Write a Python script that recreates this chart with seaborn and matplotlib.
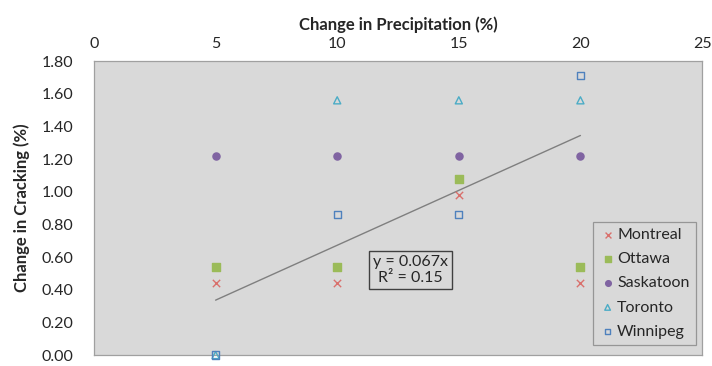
import numpy as np
import pandas as pd
import matplotlib
matplotlib.use("Agg")
import matplotlib.pyplot as plt
import seaborn as sns

precip = [5, 10, 15, 20]
montreal = [0.44, 0.44, 0.98, 0.44]
ottawa = [0.54, 0.54, 1.08, 0.54]
saskatoon = [1.22, 1.22, 1.22, 1.22]
toronto = [0.00, 1.56, 1.56, 1.56]
winnipeg = [0.00, 0.86, 0.86, 1.71]
cities = ["Montreal", "Ottawa", "Saskatoon", "Toronto", "Winnipeg"]
x_ticks = [0, 5, 10, 15, 20, 25]
y_ticks = [0.0, 0.2, 0.4, 0.6, 0.8, 1.0, 1.2, 1.4, 1.6, 1.8]

series = dict(zip(cities, [montreal, ottawa, saskatoon, toronto, winnipeg]))
df = pd.DataFrame([(c, x, y) for c, ys in series.items() for x, y in zip(precip, ys)],
                  columns=["city", "precip", "crack"])

sns.set_theme(style="white")
plt.rcParams['font.family'] = ['Lato', 'DejaVu Sans']

fig = plt.figure(figsize=(7.12, 3.66), dpi=100)
ax = fig.add_axes([0.132, 0.030, 0.854, 0.803])
ax.set_facecolor("#d9d9d9")

styles = {
    "Montreal": dict(marker="x", color="#d9706c", fc=None),
    "Ottawa": dict(marker="s", color="#9bbb59", fc="#9bbb59"),
    "Saskatoon": dict(marker="o", color="#8064a2", fc="#8064a2"),
    "Toronto": dict(marker="^", color="#4bacc6", fc="none"),
    "Winnipeg": dict(marker="s", color="#4f81bd", fc="none"),
}

for c in cities:
    st = styles[c]
    sub = df[df.city == c]
    if st["fc"] is None:
        sns.scatterplot(data=sub, x="precip", y="crack", marker="x", s=28,
                        color=st["color"], linewidth=1.0, label=c, ax=ax, clip_on=False, zorder=3)
    else:
        sns.scatterplot(data=sub, x="precip", y="crack", marker=st["marker"], s=26,
                        facecolor=st["fc"], edgecolor=st["color"], linewidth=1.0,
                        label=c, ax=ax, clip_on=False, zorder=3)

# linear trendline through origin
xa = np.array(df.precip, dtype=float)
ya = np.array(df.crack, dtype=float)
slope = (xa * ya).sum() / (xa * xa).sum()
fit = pd.DataFrame({"x": [min(precip), max(precip)]})
fit["y"] = slope * fit["x"]
sns.lineplot(data=fit, x="x", y="y", color="#7f7f7f", linewidth=1.0, ax=ax, zorder=2)

ax.set_xlim(0, 25)
ax.set_ylim(0, 1.8)
ax.set_xticks(x_ticks)
ax.set_yticks(y_ticks)
ax.set_yticklabels([f"{v:.2f}" for v in y_ticks])
ax.xaxis.tick_top()
ax.xaxis.set_label_position("top")
ax.tick_params(axis="x", length=0, labelsize=11.5, pad=7, colors="#262626")
ax.tick_params(axis="y", direction="in", length=4, width=0.8, color="#868686",
               labelsize=11.5, pad=15, labelcolor="#262626")
ax.set_xlabel("Change in Precipitation (%)", fontsize=12, fontweight="bold", labelpad=5)
ax.set_ylabel("Change in Cracking (%)", fontsize=12, fontweight="bold", labelpad=8)
for sp in ax.spines.values():
    sp.set_visible(True)
    sp.set_color("#a0a0a0")
    sp.set_linewidth(0.9)

ax.text(13.0, 0.52, f"y = {slope:.3f}x\nR² = 0.15", ha="center", va="center", fontsize=11.5,
        color="#262626", linespacing=1.15,
        bbox=dict(boxstyle="square,pad=0.25", facecolor="none", edgecolor="#404040", linewidth=1.0))

leg = ax.legend(loc="lower right", bbox_to_anchor=(0.99, 0.034), borderaxespad=0,
                frameon=True, fontsize=11.5,
                handletextpad=0.1, handlelength=1.0, borderpad=0.4, labelspacing=0.62,
                fancybox=False, markerscale=0.8)
leg.get_frame().set_facecolor("#d9d9d9")
leg.get_frame().set_edgecolor("#868686")
leg.get_frame().set_linewidth(0.9)

fig.savefig("out.png", dpi=100, facecolor="white")
